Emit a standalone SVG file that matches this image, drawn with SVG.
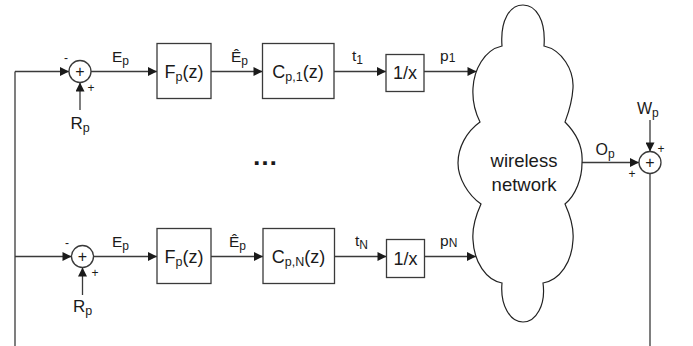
<svg xmlns="http://www.w3.org/2000/svg" width="693" height="346" viewBox="0 0 693 346">
<style>
.ln{fill:none;stroke:#3a3a3a;stroke-width:1.3}
.bx{fill:#fff;stroke:#3a3a3a;stroke-width:1.3}
.cl{fill:#fff;stroke:#222;stroke-width:1.2}
text{font-family:"Liberation Sans",Arial,sans-serif;fill:#1a1a1a}
.lb{font-size:15.5px}
.bt{font-size:18px;text-anchor:middle}
.sg{font-size:12px;text-anchor:middle}
.arr{marker-end:url(#ah)}
</style>
<defs>
<marker id="ah" viewBox="0 0 10 10" refX="10" refY="5" markerWidth="10" markerHeight="9" markerUnits="userSpaceOnUse" orient="auto">
<path d="M0,0 L10,5 L0,10 z" fill="#1a1a1a"/>
</marker>
</defs>
<rect width="693" height="346" fill="#fff"/>

<g id="connectors">
<path class="ln" d="M15,346 V71.5"/>
<path class="ln arr" d="M15,71.5 H69"/>
<path class="ln arr" d="M15,256.5 H71.5"/>
<path class="ln arr" d="M80,110 V82.5"/>
<path class="ln arr" d="M82.5,295 V267.5"/>
<path class="ln arr" d="M91,71.5 H157"/>
<path class="ln arr" d="M211,71.5 H262.5"/>
<path class="ln arr" d="M334,71.5 H386"/>
<path class="ln arr" d="M424,71.5 H476.5"/>
<path class="ln arr" d="M93.5,256.5 H157"/>
<path class="ln arr" d="M211,256.5 H263"/>
<path class="ln arr" d="M335,256.5 H386.5"/>
<path class="ln arr" d="M425,256.5 H476"/>
<path class="ln arr" d="M582,162.5 H639"/>
<path class="ln arr" d="M650,120 V151.5"/>
<path class="ln" d="M650,173.5 V346"/>
</g>

<g id="sum1">
<circle class="bx" cx="80" cy="71.5" r="11"/>
<text class="sg" x="80" y="77" style="font-size:16px">+</text>
<text class="sg" x="66" y="62">-</text>
<text class="sg" x="91" y="92">+</text>
</g>
<g id="Rp1"><text class="lb" x="80" y="129" text-anchor="middle" style="font-size:17px">R<tspan font-size="12.5" dy="3">p</tspan></text></g>
<g id="Ep1"><text class="lb" x="112" y="62">E<tspan font-size="12" dy="3">p</tspan></text></g>
<g id="F1">
<rect class="bx" x="157" y="43.5" width="54" height="55"/>
<text class="bt" x="184" y="77.5">F<tspan font-size="12.5" dy="3">p</tspan><tspan dy="-3">(z)</tspan></text>
</g>
<g id="Ehat1"><text class="lb" x="231" y="62">Ê<tspan font-size="12" dy="3">p</tspan></text></g>
<g id="C1">
<rect class="bx" x="262.5" y="43.5" width="71.5" height="55"/>
<text class="bt" x="298" y="77.5">C<tspan font-size="12.5" dy="3">p,1</tspan><tspan dy="-3">(z)</tspan></text>
</g>
<g id="t1"><text class="lb" x="352" y="61">t<tspan font-size="12" dy="3">1</tspan></text></g>
<g id="inv1">
<rect class="bx" x="386" y="54.5" width="38" height="37"/>
<text class="bt" x="405" y="79">1/x</text>
</g>
<g id="p1"><text class="lb" x="440" y="61">p<tspan font-size="12" dy="1">1</tspan></text></g>

<g id="dots"><text x="265" y="165" text-anchor="middle" style="font-size:26px;font-weight:bold">…</text></g>

<g id="sum2">
<circle class="bx" cx="82.5" cy="256.5" r="11"/>
<text class="sg" x="82.5" y="262" style="font-size:16px">+</text>
<text class="sg" x="67" y="247">-</text>
<text class="sg" x="95" y="277">+</text>
</g>
<g id="Rp2"><text class="lb" x="82.5" y="311.5" text-anchor="middle" style="font-size:17px">R<tspan font-size="12.5" dy="3">p</tspan></text></g>
<g id="Ep2"><text class="lb" x="112" y="247">E<tspan font-size="12" dy="3">p</tspan></text></g>
<g id="F2">
<rect class="bx" x="157" y="228.5" width="54" height="55"/>
<text class="bt" x="184" y="262.5">F<tspan font-size="12.5" dy="3">p</tspan><tspan dy="-3">(z)</tspan></text>
</g>
<g id="Ehat2"><text class="lb" x="229" y="247">Ê<tspan font-size="12" dy="3">p</tspan></text></g>
<g id="C2">
<rect class="bx" x="263" y="228.5" width="71.5" height="55"/>
<text class="bt" x="298.5" y="262.5">C<tspan font-size="12.5" dy="3">p,N</tspan><tspan dy="-3">(z)</tspan></text>
</g>
<g id="tN"><text class="lb" x="355" y="246">t<tspan font-size="12" dy="3">N</tspan></text></g>
<g id="inv2">
<rect class="bx" x="386.5" y="239.5" width="38" height="38"/>
<text class="bt" x="405.5" y="264.5">1/x</text>
</g>
<g id="pN"><text class="lb" x="440" y="246">p<tspan font-size="12" dy="1">N</tspan></text></g>

<g id="cloud">
<path class="cl" d="M502,46 C500,20 510,5 523,5 C536,5 546,20 544,46 C562,50 574,70 573,88 C572,104 568,114 565,122 C578,135 583,150 582,163 C582,178 576,195 565,204 C570,215 574,228 573,240 C572,262 560,280 543,283 C546,305 536,322 523,322 C510,322 500,305 502,283 C486,280 474,262 473,240 C472,228 476,215 481,204 C468,195 458,178 458,163 C458,148 466,132 480,122 C476,114 472,104 473,88 C474,70 484,50 502,46 Z"/>
<text x="524" y="167" text-anchor="middle" style="font-size:18.5px">wireless</text>
<text x="524" y="190.5" text-anchor="middle" style="font-size:18.5px">network</text>
</g>

<g id="Op"><text class="lb" x="595.5" y="154.5" style="font-size:16px">O<tspan font-size="12" dy="3">p</tspan></text></g>
<g id="Wp"><text class="lb" x="637" y="114" style="font-size:16px">W<tspan font-size="12" dy="3">p</tspan></text></g>
<g id="sum3">
<circle class="bx" cx="650" cy="162.5" r="11"/>
<text class="sg" x="650" y="168" style="font-size:16px">+</text>
<text class="sg" x="661" y="153">+</text>
<text class="sg" x="632" y="178">+</text>
</g>
</svg>
